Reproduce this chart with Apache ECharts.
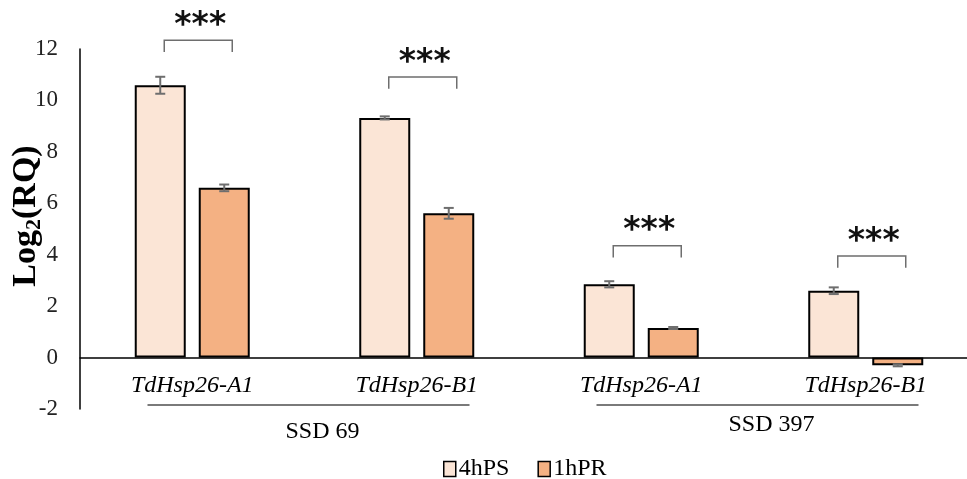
<!DOCTYPE html>
<html>
<head>
<meta charset="utf-8">
<script src="https://cdn.jsdelivr.net/npm/echarts@6/dist/echarts.min.js"></script>
<style>
  html, body { margin: 0; padding: 0; background: #fff; }
  #chart { width: 967px; height: 479px; }
</style>
</head>
<body>
<div id="chart"></div>
<script>
// Genes on the x axis, grouped by line (two genes per line)
const genes = ['TdHsp26-A1', 'TdHsp26-B1', 'TdHsp26-A1', 'TdHsp26-B1'];
const lineNames = ['SSD 69', 'SSD 397'];
const lineGroups = [[0, 1], [2, 3]];

// Log2(RQ) means and their standard errors
const seriesNames = ['4hPS', '1hPR'];
const ps4h = [10.59, 9.32, 2.85, 2.60];
const ps4hErr = [0.33, 0.06, 0.12, 0.13];
const pr1h = [6.60, 5.61, 1.15, -0.30];
const pr1hErr = [0.13, 0.21, 0.04, 0.04];

// Value axis range
const yMin = -2, yMax = 12, yStep = 2;

// Significance brackets: height of the bracket bar (in Log2(RQ) units) and label
const sigLevel = [12.34, 10.91, 4.35, 3.95];
const sigLabel = ['***', '***', '***', '***'];

const SERIF = '"Liberation Serif", "Times New Roman", serif';
const BAR_W = 51;
const BAR_GAP = 13;
const HALF = (BAR_W + BAR_GAP) / 2;
const GRID_H = 360;
// the category axis sits on the zero line of the value axis
const xAxisShift = -(0 - yMin) / (yMax - yMin) * GRID_H;

function errorBars(values, errs, side) {
  return {
    type: 'custom',
    clip: false,
    z: 5,
    silent: true,
    encode: { x: 0, y: 1 },
    data: values.map((v, i) => [i, v, errs[i]]),
    renderItem(params, api) {
      const i = api.value(0), v = api.value(1), e = api.value(2);
      const x = api.coord([i, v])[0] + side * HALF;
      const yt = api.coord([i, v + e])[1];
      const yb = api.coord([i, v - e])[1];
      const style = { stroke: '#6e6e6e', lineWidth: 2 };
      return {
        type: 'group',
        children: [
          { type: 'line', shape: { x1: x, y1: yt, x2: x, y2: yb }, style },
          { type: 'line', shape: { x1: x - 5, y1: yt, x2: x + 5, y2: yt }, style },
          { type: 'line', shape: { x1: x - 5, y1: yb, x2: x + 5, y2: yb }, style }
        ]
      };
    }
  };
}

const chart = echarts.init(document.getElementById('chart'));

chart.setOption({
  animation: false,
  grid: { left: 80, top: 49, width: 898, height: GRID_H, containLabel: false, outerBoundsMode: 'none' },
  legend: {
    data: seriesNames,
    left: 438,
    top: 452,
    icon: 'rect',
    itemWidth: 12,
    itemHeight: 15,
    itemGap: 28,
    itemStyle: { borderColor: '#000', borderWidth: 1.5 },
    textStyle: { fontFamily: SERIF, fontSize: 24, color: '#000', padding: [0, 0, 0, -2] }
  },
  xAxis: {
    type: 'category',
    data: genes,
    offset: xAxisShift,
    axisLine: { onZero: false, lineStyle: { color: '#000', width: 1.5 } },
    axisTick: { show: false },
    axisLabel: {
      margin: 16,
      fontFamily: SERIF,
      fontStyle: 'italic',
      fontSize: 24,
      color: '#000'
    },
    splitLine: { show: false }
  },
  yAxis: {
    type: 'value',
    min: yMin,
    max: yMax,
    interval: yStep,
    axisLine: { show: true, onZero: false, lineStyle: { color: '#000', width: 1.5 } },
    axisTick: { show: false },
    splitLine: { show: false },
    axisLabel: { margin: 22, fontFamily: SERIF, fontSize: 23, color: '#222' }
  },
  series: [
    {
      name: seriesNames[0],
      type: 'bar',
      data: ps4h,
      barWidth: BAR_W,
      barGap: (BAR_GAP / BAR_W * 100).toFixed(1) + '%',
      itemStyle: { color: '#FBE5D6', borderColor: '#000', borderWidth: 2 }
    },
    {
      name: seriesNames[1],
      type: 'bar',
      data: pr1h,
      barWidth: BAR_W,
      itemStyle: { color: '#F4B183', borderColor: '#000', borderWidth: 2 }
    },
    errorBars(ps4h, ps4hErr, -1),
    errorBars(pr1h, pr1hErr, 1),
    {
      type: 'custom',
      clip: false,
      silent: true,
      z: 6,
      encode: { x: 0, y: 1 },
      data: sigLevel.map((v, i) => [i, v]),
      renderItem(params, api) {
        const i = api.value(0), lvl = api.value(1);
        const c = api.coord([i, lvl]);
        const legEnd = api.coord([i, lvl - 0.46])[1];
        const l = c[0] - 28, r = c[0] + 40;
        return {
          type: 'group',
          children: [
            {
              type: 'polyline',
              shape: { points: [[l, legEnd], [l, c[1]], [r, c[1]], [r, legEnd]] },
              style: { stroke: '#6e6e6e', lineWidth: 1.5, fill: null }
            },
            {
              type: 'text',
              style: {
                text: sigLabel[params.dataIndex],
                x: (l + r) / 2 + 2,
                y: c[1] - 14,
                align: 'center',
                verticalAlign: 'middle',
                font: 'bold 33px "DejaVu Sans", sans-serif',
                fill: '#111'
              }
            }
          ]
        };
      }
    }
  ]
});

// Vertical axis title (with subscript 2), line grouping rules and line labels
const zeroY = chart.convertToPixel({ yAxisIndex: 0 }, 0);
const extraGraphics = [{
  id: 'yname',
  type: 'text',
  x: 26,
  y: 216,
  rotation: Math.PI / 2,
  style: {
    text: '{m|Log}{s|2}{m|(RQ)}',
    align: 'center',
    verticalAlign: 'middle',
    rich: {
      m: { fontFamily: SERIF, fontWeight: 'bold', fontSize: 34, fill: '#000', lineHeight: 38 },
      s: { fontFamily: SERIF, fontWeight: 'bold', fontSize: 22, fill: '#000', lineHeight: 38, verticalAlign: 'bottom', padding: [15, 0, 0, 0] }
    }
  }
}];
lineGroups.forEach((g, k) => {
  const a = chart.convertToPixel({ xAxisIndex: 0 }, g[0]);
  const b = chart.convertToPixel({ xAxisIndex: 0 }, g[1]);
  const mid = (a + b) / 2;
  extraGraphics.push({
    id: 'rule' + k,
    type: 'line',
    shape: { x1: mid + 4 - 161, y1: zeroY + 47.5, x2: mid + 4 + 161, y2: zeroY + 47.5 },
    style: { stroke: '#7a7a7a', lineWidth: 2 }
  });
  extraGraphics.push({
    id: 'label' + k,
    type: 'text',
    style: {
      text: lineNames[k],
      x: mid + 18,
      y: zeroY + (k === 0 ? 74 : 67),
      align: 'center',
      verticalAlign: 'middle',
      font: '24px ' + SERIF,
      fill: '#000'
    }
  });
});
chart.setOption({ graphic: extraGraphics });
</script>
</body>
</html>
